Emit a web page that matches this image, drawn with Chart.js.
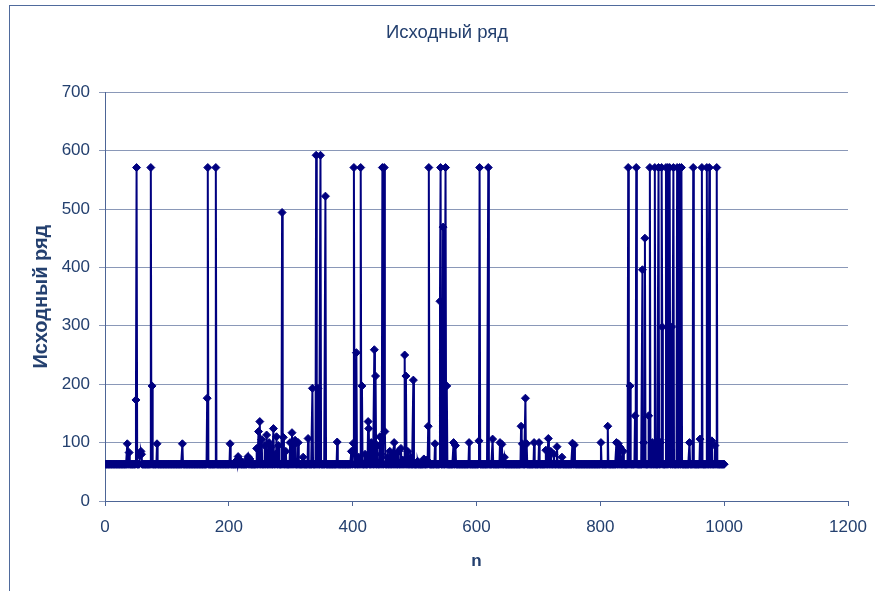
<!DOCTYPE html>
<html>
<head>
<meta charset="utf-8">
<script src="https://cdn.jsdelivr.net/npm/chart.js@4.4.1/dist/chart.umd.min.js"></script>
<style>
  html, body { margin: 0; padding: 0; background: #ffffff; overflow: hidden; }
  #wrap { position: relative; width: 875px; height: 591px; }
  #frame { position: absolute; left: 9px; top: 5px; width: 1000px; height: 800px;
           border-left: 1.5px solid #4f6a9c; border-top: 1.5px solid #4f6a9c; pointer-events: none; }
  canvas { position: absolute; left: 0; top: 0; }
</style>
</head>
<body>
<div id="wrap">
  <canvas id="c" width="875" height="591"></canvas>
  <div id="frame"></div>
</div>
<script>
// ---- data ----
const chartTitle = 'Исходный ряд';
const xTitle = 'n';
const yTitle = 'Исходный ряд';
const firstN = 1;
const lastN = 1000;
const baseline = 63;           // level of the flat part of the series
// positions (n) and values of the points that leave the baseline
const spikeN = [
  36, 39, 50, 51, 56, 57, 58, 59, 74, 76, 84,
  125, 165, 166, 179,
  202, 213, 215, 218, 230, 231, 234, 245, 248, 250, 253, 258, 261, 265, 268, 272, 275, 277, 280, 286, 288, 292, 299,
  302, 305, 307, 312, 320, 328, 335, 341, 344, 348, 356, 375, 398,
  401, 402, 406, 410, 413, 415, 420, 425, 426, 430, 432, 435, 437, 440, 444, 446, 448, 451, 452, 456, 460, 464, 467, 470, 474, 478, 481, 484, 486, 489, 493, 498,
  505, 515, 520, 522, 523, 533, 541, 542, 546, 550, 552, 563, 566, 588,
  604, 605, 619, 626, 638, 641, 645, 672, 674, 679, 681, 693,
  701, 712, 716, 720, 725, 730, 738, 755, 758,
  801, 812, 826, 829, 832, 837, 845, 848, 856, 858, 868, 870, 872, 878, 880, 884, 888, 894, 897, 899,
  900, 906, 909, 911, 912, 915, 918, 924, 928, 931, 944, 950, 961, 964, 972, 976, 980, 985, 988
];
const spikeV = [
  98, 83, 173, 571, 78, 82, 85, 80, 571, 197, 98,
  98, 176, 571, 571,
  98, 70, 76, 70, 72, 76, 72, 90, 119, 136, 105, 95, 113, 100, 92, 124, 80, 110, 95, 494, 109, 85, 100,
  117, 96, 104, 100, 75, 107, 193, 592, 193, 592, 522, 101, 85,
  99, 571, 254, 75, 571, 197, 80, 136, 124, 100, 90, 259, 214, 95, 110, 80, 571, 571, 119, 75, 85, 78, 100, 80, 85, 90, 70, 250, 214, 85, 75, 207,
  68, 72, 70, 128, 571, 98, 342, 571, 469, 571, 197, 100, 95, 100,
  103, 571, 571, 106, 100, 97, 75, 128, 98, 176, 98, 100,
  100, 87, 107, 85, 80, 93, 75, 99, 96,
  100, 128, 100, 98, 92, 85, 571, 197, 146, 571, 396, 100, 450, 146, 571, 100, 571, 571, 100, 571,
  298, 571, 571, 105, 571, 298, 571, 571, 571, 571, 100, 571, 106, 571, 571, 571, 103, 95, 571
];
const xTicks = { min: 0, max: 1200, step: 200 };
const yTicks = { min: 0, max: 700, step: 100 };

// ---- build the series ----
const values = {};
for (let i = 0; i < spikeN.length; i++) values[spikeN[i]] = spikeV[i];
const points = [];
for (let n = firstN; n <= lastN; n++) {
  points.push({ x: n, y: (n in values) ? values[n] : baseline });
}

// ---- styles ----
const markColor = '#000080';
const gridColor = '#8a98b8';
const axisColor = '#4d6596';
const textColor = '#24406f';
const fontFamily = '"Liberation Sans", Arial, sans-serif';
const plainLabel = (v) => String(v);

new Chart(document.getElementById('c'), {
  type: 'scatter',
  data: {
    datasets: [{
      data: points,
      showLine: true,
      borderColor: markColor,
      backgroundColor: markColor,
      borderWidth: 2,
      pointStyle: 'rectRot',
      pointRadius: 4,
      pointBorderWidth: 1,
      pointHoverRadius: 4,
      tension: 0
    }]
  },
  options: {
    responsive: false,
    animation: false,
    devicePixelRatio: 1,
    layout: { padding: { left: 19, right: 0, top: 0, bottom: 0 } },
    plugins: {
      legend: { display: false },
      tooltip: { enabled: false },
      title: {
        display: true,
        text: chartTitle,
        color: textColor,
        font: { family: fontFamily, size: 18.5, weight: 'normal' },
        padding: { top: 22, bottom: 48 }
      }
    },
    scales: {
      x: {
        type: 'linear',
        min: xTicks.min, max: xTicks.max,
        ticks: { stepSize: xTicks.step, padding: 11, color: textColor, callback: plainLabel,
                 font: { family: fontFamily, size: 17 }, maxRotation: 0 },
        grid: { drawOnChartArea: false, drawTicks: true, tickLength: 5, color: axisColor },
        border: { color: axisColor, width: 1 },
        title: { display: true, text: xTitle, color: textColor,
                 font: { family: fontFamily, size: 17, weight: 'bold' },
                 padding: { top: 0, bottom: 19 } },
        afterFit: (s) => { s.height = 90; s.paddingRight = 0; s.paddingLeft = 0; }
      },
      y: {
        min: yTicks.min, max: yTicks.max,
        ticks: { stepSize: yTicks.step, padding: 9, color: textColor, callback: plainLabel,
                 font: { family: fontFamily, size: 17 } },
        grid: { color: gridColor, tickLength: 6, drawTicks: true },
        border: { color: axisColor, width: 1 },
        title: { display: true, text: yTitle, color: textColor,
                 font: { family: fontFamily, size: 20, weight: 'bold' },
                 padding: { top: 10, bottom: 0 } },
        afterFit: (s) => { s.width = 86; }
      },
      yRightSpace: {
        position: 'right',
        min: yTicks.min, max: yTicks.max,
        ticks: { display: false },
        grid: { display: false, drawTicks: false },
        border: { display: false },
        title: { display: false },
        afterFit: (s) => { s.width = 27; }
      }
    }
  }
});
</script>
</body>
</html>
